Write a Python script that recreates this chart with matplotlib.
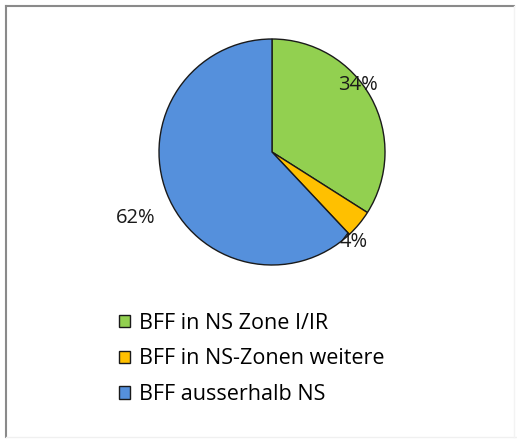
import matplotlib.pyplot as plt
from matplotlib.patches import Patch
from matplotlib.lines import Line2D

plt.rcParams['font.family'] = ['Open Sans', 'DejaVu Sans']

# data
labels = ['BFF in NS Zone I/IR', 'BFF in NS-Zonen weitere', 'BFF ausserhalb NS']
values = [34, 4, 62]
colours = ['#92D050', '#FFC000', '#5590DC']
pct_text = ['34%', '4%', '62%']

W, H = 517, 441
fig = plt.figure(figsize=(W / 100, H / 100), dpi=100)
fig.patch.set_facecolor('white')

# frame: grey on top/left, faint on bottom/right
fig.add_artist(Line2D([6 / W, 6 / W], [1 - 6 / H, 4 / H], color='#8a8a8a', lw=1.5))
fig.add_artist(Line2D([6 / W, 1 - 3 / W], [1 - 6 / H, 1 - 6 / H], color='#8a8a8a', lw=1.5))
fig.add_artist(Line2D([6 / W, 1], [4 / H, 4 / H], color='#f0f0f0', lw=1.0))
fig.add_artist(Line2D([1 - 3 / W, 1 - 3 / W], [1 - 6 / H, 4 / H], color='#f3f3f3', lw=1.0))

# pie axes: centre (272,152), radius 113 px
r = 113
cx, cy = 272, H - 152
ax = fig.add_axes([(cx - r) / W, (cy - r) / H, 2 * r / W, 2 * r / H])
wedges, _ = ax.pie(values, colors=colours, startangle=90, counterclock=False,
                   wedgeprops=dict(edgecolor='#1a1a1a', linewidth=1.0))
ax.set_xlim(-1, 1)
ax.set_ylim(-1, 1)
ax.set_aspect('equal')
ax.axis('off')

# percent labels (Excel best-fit positions)
label_pos = [(0.76, 0.59), (0.72, -0.80), (-1.21, -0.58)]
for (x, y), t in zip(label_pos, pct_text):
    ax.text(x, y, t, ha='center', va='center', fontsize=14.5, color='#1a1a1a', clip_on=False)

handles = [Patch(facecolor=c, edgecolor='#1a1a1a', linewidth=1.0) for c in colours]
fig.legend(handles, labels, loc='upper left', bbox_to_anchor=(116 / W - 8 / W, 1 - 302 / H),
           frameon=False, fontsize=15.5, handlelength=0.5, handleheight=0.5,
           handletextpad=0.45, labelspacing=0.68, borderpad=0)

fig.savefig('out.png', dpi=100, facecolor='white')
